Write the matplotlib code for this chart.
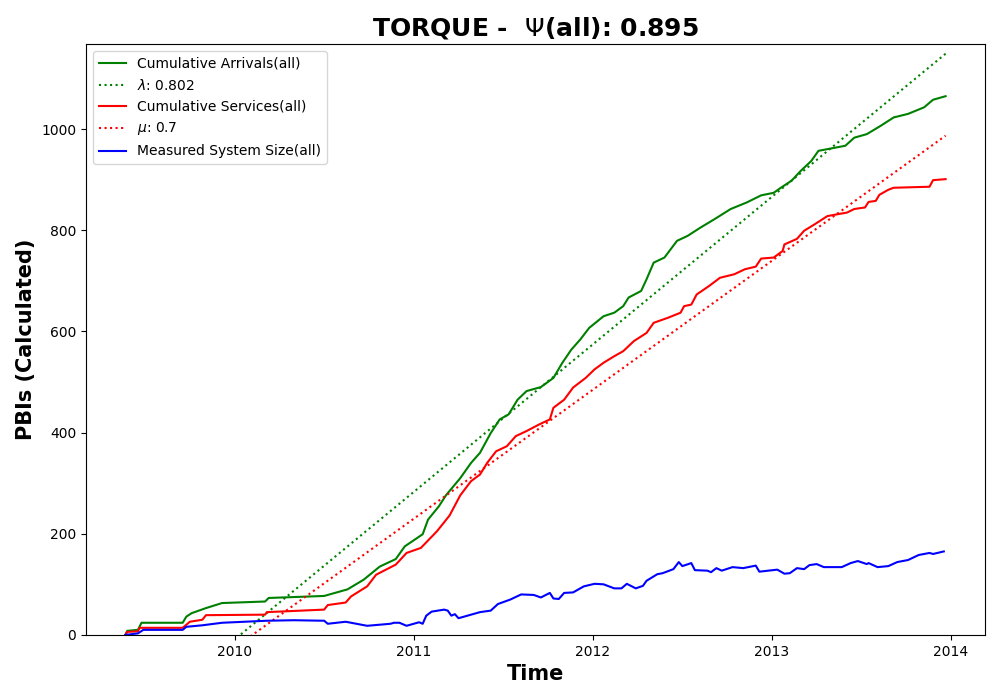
from matplotlib import pyplot as plt

# values (time in decimal years)
arr_t = [2009.39, 2009.40, 2009.46, 2009.48, 2009.71, 2009.73, 2009.76, 2009.84, 2009.93,
         2010.17, 2010.19, 2010.50, 2010.63, 2010.72, 2010.81, 2010.90, 2010.95, 2011.05,
         2011.08, 2011.14, 2011.18, 2011.26, 2011.32, 2011.37, 2011.43, 2011.48, 2011.53,
         2011.58, 2011.63, 2011.71, 2011.78, 2011.83, 2011.88, 2011.93, 2011.98, 2012.06,
         2012.12, 2012.17, 2012.20, 2012.27, 2012.30, 2012.34, 2012.40, 2012.47, 2012.53,
         2012.60, 2012.68, 2012.77, 2012.86, 2012.94, 2013.01, 2013.05, 2013.11, 2013.16,
         2013.22, 2013.26, 2013.35, 2013.41, 2013.46, 2013.53, 2013.61, 2013.68, 2013.76,
         2013.85, 2013.90, 2013.97]
arr_v = [0, 8, 10, 24, 24, 36, 43, 53, 63,
         66, 73, 77, 90, 109, 135, 150, 175, 199,
         228, 254, 276, 310, 340, 360, 399, 426, 436,
         465, 482, 490, 508, 538, 564, 584, 607, 630,
         637, 650, 667, 680, 703, 736, 746, 779, 789,
         805, 822, 842, 855, 869, 874, 884, 898, 917,
         937, 957, 963, 967, 983, 990, 1007, 1023, 1030,
         1043, 1058, 1065]

srv_t = [2009.39, 2009.40, 2009.46, 2009.47, 2009.71, 2009.75, 2009.82, 2009.84, 2010.17,
         2010.18, 2010.50, 2010.52, 2010.62, 2010.65, 2010.74, 2010.79, 2010.90, 2010.96,
         2011.04, 2011.13, 2011.20, 2011.26, 2011.32, 2011.37, 2011.41, 2011.46, 2011.52,
         2011.57, 2011.63, 2011.70, 2011.76, 2011.78, 2011.84, 2011.89, 2011.96, 2012.01,
         2012.06, 2012.12, 2012.17, 2012.23, 2012.30, 2012.34, 2012.42, 2012.49, 2012.51,
         2012.55, 2012.58, 2012.65, 2012.71, 2012.79, 2012.85, 2012.91, 2012.94, 2013.01,
         2013.06, 2013.07, 2013.14, 2013.18, 2013.24, 2013.31, 2013.42, 2013.46, 2013.52,
         2013.54, 2013.58, 2013.60, 2013.65, 2013.68, 2013.88, 2013.90, 2013.97]
srv_v = [0, 6, 7, 14, 14, 26, 30, 39, 40,
         45, 50, 59, 64, 76, 96, 119, 139, 162,
         172, 205, 236, 276, 304, 317, 340, 363, 373,
         393, 403, 416, 426, 449, 465, 489, 508, 525,
         538, 551, 561, 581, 597, 617, 627, 637, 650,
         653, 673, 690, 706, 713, 723, 728, 744, 746,
         759, 772, 783, 799, 812, 828, 835, 842, 845,
         856, 858, 870, 880, 884, 886, 899, 901]

size_t = [2009.39, 2009.46, 2009.49, 2009.71, 2009.73, 2009.82, 2009.93, 2010.18, 2010.33,
          2010.50, 2010.52, 2010.62, 2010.74, 2010.87, 2010.89, 2010.92, 2010.96, 2011.03,
          2011.05, 2011.07, 2011.10, 2011.17, 2011.19, 2011.21, 2011.23, 2011.25, 2011.32,
          2011.37, 2011.43, 2011.47, 2011.54, 2011.60, 2011.67, 2011.71, 2011.76, 2011.78,
          2011.81, 2011.84, 2011.89, 2011.95, 2012.01, 2012.06, 2012.12, 2012.16, 2012.19,
          2012.24, 2012.28, 2012.30, 2012.36, 2012.39, 2012.45, 2012.48, 2012.50, 2012.55,
          2012.57, 2012.64, 2012.66, 2012.69, 2012.72, 2012.78, 2012.84, 2012.91, 2012.93,
          2013.03, 2013.07, 2013.10, 2013.14, 2013.18, 2013.21, 2013.25, 2013.29, 2013.39,
          2013.44, 2013.48, 2013.53, 2013.54, 2013.59, 2013.65, 2013.70, 2013.76, 2013.82,
          2013.88, 2013.90, 2013.96]
size_v = [0, 3, 10, 10, 16, 19, 24, 28, 29,
          28, 22, 26, 18, 22, 24, 24, 18, 25,
          22, 38, 46, 50, 48, 38, 41, 33, 40,
          45, 48, 61, 70, 80, 79, 74, 83, 72,
          71, 83, 84, 96, 101, 100, 92, 92, 101,
          92, 97, 107, 120, 122, 130, 144, 136, 142,
          128, 127, 124, 132, 127, 134, 132, 137, 125,
          129, 121, 122, 132, 130, 138, 140, 134, 134,
          142, 146, 140, 142, 134, 136, 144, 148, 158,
          162, 160, 165]

# end points of the fitted rate lines
lam_t = [2009.39, 2013.97]
lam_v = [-187, 1149]
mu_t = [2009.39, 2013.97]
mu_v = [-181, 987]

lam_label = r"$\lambda$: 0.802"
mu_label = r"$\mu$: 0.7"
psi = 0.895
years = [2010, 2011, 2012, 2013, 2014]

fig, ax = plt.subplots(figsize=(10, 7), dpi=100)
ax.plot(arr_t, arr_v, color="green", label="Cumulative Arrivals(all)")
ax.plot(lam_t, lam_v, color="green", linestyle=":", label=lam_label)
ax.plot(srv_t, srv_v, color="red", label="Cumulative Services(all)")
ax.plot(mu_t, mu_v, color="red", linestyle=":", label=mu_label)
ax.plot(size_t, size_v, color="blue", label="Measured System Size(all)")

ax.set_xlim(2009.17, 2014.19)
ax.set_ylim(0, 1168)
ax.set_xticks(years)
ax.set_xticklabels([str(y) for y in years])
ax.set_xlabel("Time", fontsize=15, fontweight="bold")
ax.set_ylabel("PBIs (Calculated)", fontsize=15, fontweight="bold")
ax.set_title(r"TORQUE -  $\Psi$(all): {}".format(psi), fontsize=18, fontweight="bold")
ax.legend(loc="upper left")

plt.subplots_adjust(left=0.086, right=0.985, top=0.937, bottom=0.093)
plt.savefig("out.png")
